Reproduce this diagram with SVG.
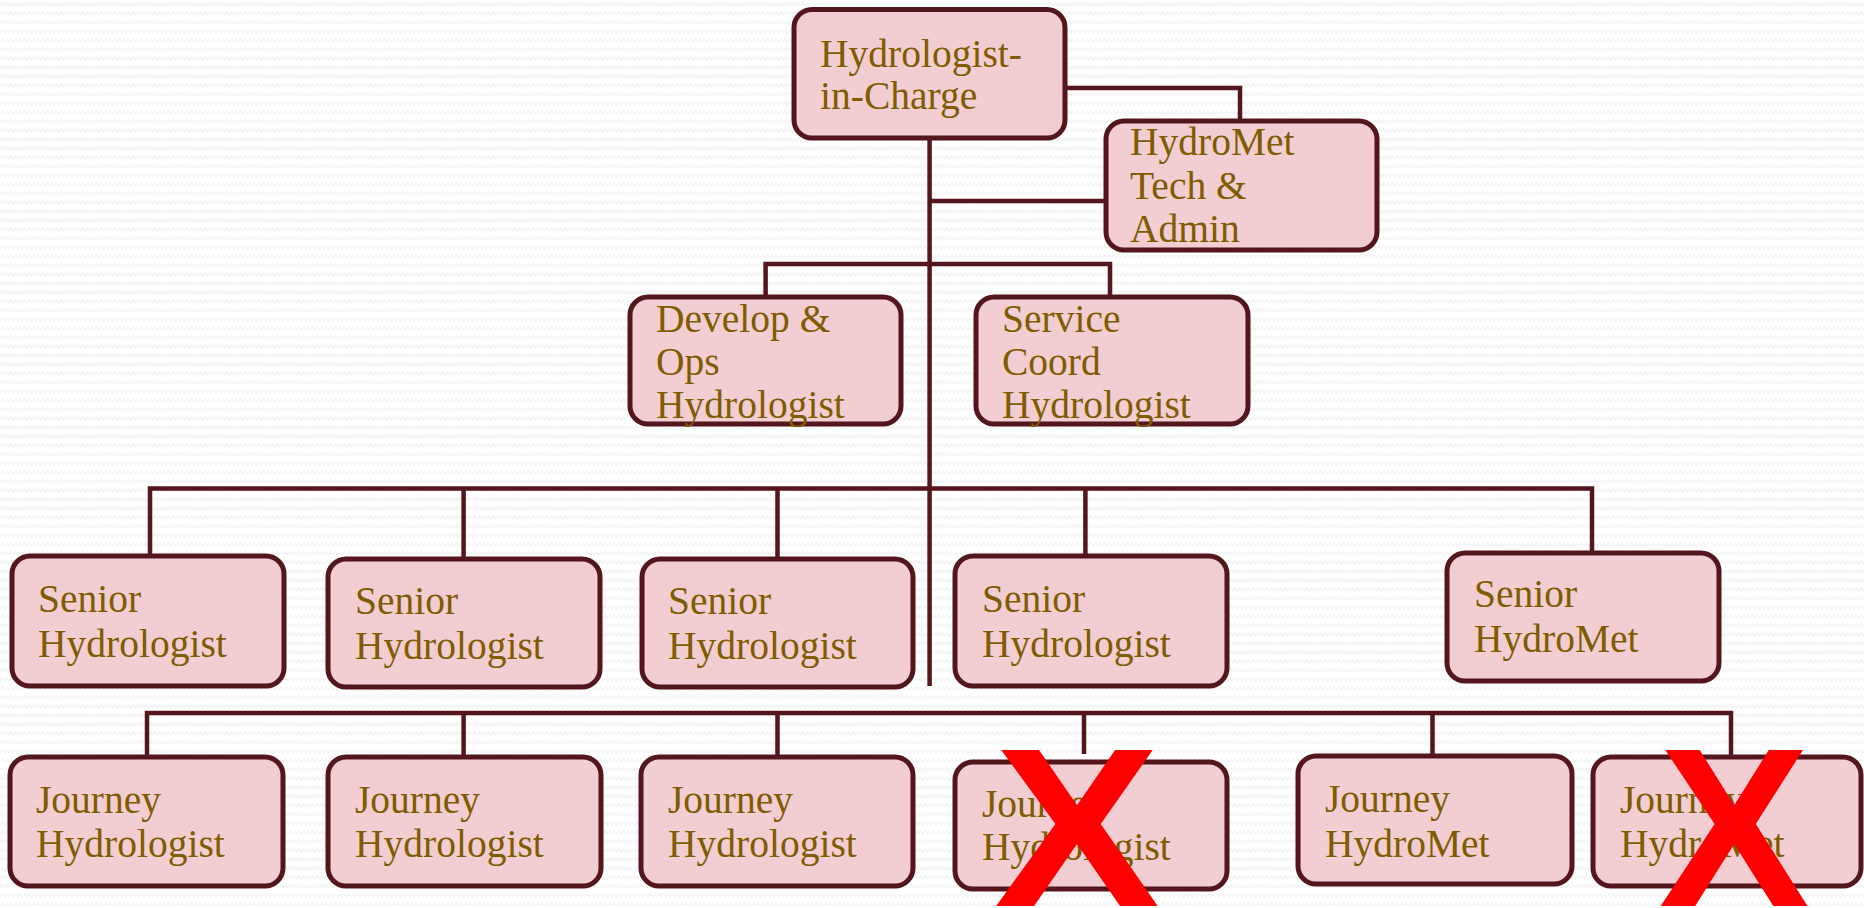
<svg xmlns="http://www.w3.org/2000/svg" width="1864" height="908" viewBox="0 0 1864 908">
<defs>
<pattern id="bg" width="9" height="9" patternUnits="userSpaceOnUse">
<polyline points="0,6 2.25,3 4.5,6 6.75,3 9,6" fill="none" stroke="#f4f4f4" stroke-width="1.4"/>
</pattern>
</defs>
<style>
.box{fill:#f2cdd2;stroke:#53161d;stroke-width:5}
.lbl{font-family:"Liberation Serif",serif;font-size:39.5px;fill:#7f5c00}
.con{fill:none;stroke:#53161d;stroke-width:4.5}
.x{font-family:"Liberation Sans",sans-serif;font-weight:bold;font-size:226px;fill:#ff0000}
</style>
<rect width="1864" height="908" fill="#ffffff"/>
<rect width="1864" height="908" fill="url(#bg)"/>
<g id="connectors">
<path class="con" d="M1065,88 H1240 V121"/>
<path class="con" d="M929.6,138 V686"/>
<path class="con" d="M929.6,201 H1106"/>
<path class="con" d="M765.6,297 V264 H1110 V297"/>
<path class="con" d="M150,556 V488.6 H1592 V553"/>
<path class="con" d="M463.6,488.6 V559"/>
<path class="con" d="M777.5,488.6 V559"/>
<path class="con" d="M1085.4,488.6 V556"/>
<path class="con" d="M147,757 V713 H1731 V757"/>
<path class="con" d="M463.6,713 V757"/>
<path class="con" d="M777.5,713 V757"/>
<path class="con" d="M1084,713 V754"/>
<path class="con" d="M1432.5,713 V756"/>
</g>
<g id="hic"><rect class="box" x="794" y="9.5" width="271" height="128.5" rx="18"/>
<text class="lbl" x="820" y="67">Hydrologist-</text><text class="lbl" x="820" y="109">in-Charge</text></g>
<g id="hydromet-tech"><rect class="box" x="1106" y="121" width="271" height="129" rx="18"/>
<text class="lbl" x="1130" y="155">HydroMet</text><text class="lbl" x="1130" y="199">Tech &amp;</text><text class="lbl" x="1130" y="242">Admin</text></g>
<g id="devops"><rect class="box" x="630" y="297" width="271" height="127" rx="18"/>
<text class="lbl" x="656" y="332">Develop &amp;</text><text class="lbl" x="656" y="375">Ops</text><text class="lbl" x="656" y="418">Hydrologist</text></g>
<g id="service"><rect class="box" x="976" y="297" width="272" height="127" rx="18"/>
<text class="lbl" x="1002" y="332">Service</text><text class="lbl" x="1002" y="375">Coord</text><text class="lbl" x="1002" y="418">Hydrologist</text></g>
<g id="senior1"><rect class="box" x="12" y="556" width="272" height="130" rx="18"/>
<text class="lbl" x="38" y="612">Senior</text><text class="lbl" x="38" y="657">Hydrologist</text></g>
<g id="senior2"><rect class="box" x="328" y="559" width="272" height="128" rx="18"/>
<text class="lbl" x="355" y="614">Senior</text><text class="lbl" x="355" y="659">Hydrologist</text></g>
<g id="senior3"><rect class="box" x="642" y="559" width="271" height="128" rx="18"/>
<text class="lbl" x="668" y="614">Senior</text><text class="lbl" x="668" y="659">Hydrologist</text></g>
<g id="senior4"><rect class="box" x="955" y="556" width="272" height="130" rx="18"/>
<text class="lbl" x="982" y="612">Senior</text><text class="lbl" x="982" y="657">Hydrologist</text></g>
<g id="senior5"><rect class="box" x="1447" y="553" width="272" height="128" rx="18"/>
<text class="lbl" x="1474" y="607">Senior</text><text class="lbl" x="1474" y="652">HydroMet</text></g>
<g id="journey1"><rect class="box" x="10" y="757" width="273" height="129" rx="18"/>
<text class="lbl" x="36" y="813">Journey</text><text class="lbl" x="36" y="857">Hydrologist</text></g>
<g id="journey2"><rect class="box" x="328" y="757" width="273" height="129" rx="18"/>
<text class="lbl" x="355" y="813">Journey</text><text class="lbl" x="355" y="857">Hydrologist</text></g>
<g id="journey3"><rect class="box" x="641" y="757" width="272" height="129" rx="18"/>
<text class="lbl" x="668" y="813">Journey</text><text class="lbl" x="668" y="857">Hydrologist</text></g>
<g id="journey4"><rect class="box" x="955" y="762" width="272" height="127" rx="18"/>
<text class="lbl" x="982" y="817">Journey</text><text class="lbl" x="982" y="860">Hydrologist</text></g>
<g id="journey5"><rect class="box" x="1298" y="756" width="274" height="128" rx="18"/>
<text class="lbl" x="1325" y="812">Journey</text><text class="lbl" x="1325" y="857">HydroMet</text></g>
<g id="journey6"><rect class="box" x="1593" y="757" width="268" height="129" rx="18"/>
<text class="lbl" x="1620" y="813">Journey</text><text class="lbl" x="1620" y="857">HydroMet</text></g>
<g id="crosses">
<text class="x" text-anchor="middle" transform="translate(1077,906) scale(1.1,1)">X</text>
<text class="x" text-anchor="middle" transform="translate(1734,906) scale(1.0,1)">X</text>
</g>
</svg>
